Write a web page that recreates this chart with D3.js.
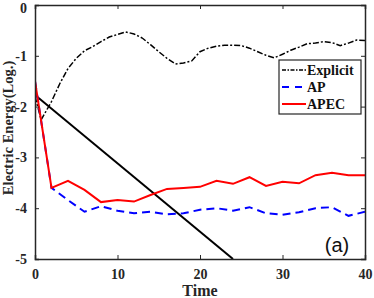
<!DOCTYPE html>
<html>
<head>
<meta charset="utf-8">
<script src="https://cdn.jsdelivr.net/npm/d3@7"></script>
<style>
  body { margin: 0; background: #fff; }
  text { font-family: "Liberation Serif", "Times New Roman", serif; font-weight: bold; }
</style>
</head>
<body>
<div id="chart"></div>
<script>
// data
const explicitT = [0, 0.75, 2, 3, 4, 5, 6, 7, 8, 9, 10, 11, 12, 13, 14, 15, 16, 17, 18, 19, 20, 21, 22, 23, 24, 25, 26, 27, 28, 29, 30, 31, 32, 33, 34, 35, 36, 37, 38, 39, 40];
const explicitE = [-1.8, -2.26, -1.9, -1.55, -1.25, -1.05, -0.9, -0.82, -0.72, -0.63, -0.58, -0.53, -0.57, -0.65, -0.78, -0.92, -1.05, -1.16, -1.14, -1.1, -0.92, -0.85, -0.81, -0.79, -0.79, -0.8, -0.85, -0.92, -0.99, -1.04, -0.97, -0.89, -0.83, -0.76, -0.75, -0.72, -0.74, -0.8, -0.75, -0.69, -0.7];

const timeSteps = [0, 2, 4, 6, 8, 10, 12, 14, 16, 18, 20, 22, 24, 26, 28, 30, 32, 34, 36, 38, 40];
const apE   = [-1.5, -3.6, -3.84, -4.07, -3.96, -4.05, -4.1, -4.07, -4.12, -4.1, -4.03, -4.0, -4.05, -3.98, -4.1, -4.13, -4.08, -4.0, -3.98, -4.15, -4.07];
const apecE = [-1.5, -3.6, -3.46, -3.64, -3.88, -3.84, -3.87, -3.74, -3.62, -3.6, -3.58, -3.46, -3.52, -3.39, -3.56, -3.48, -3.51, -3.35, -3.3, -3.35, -3.35];

// reference decay line (not in legend)
const refT = [0, 24];
const refE = [-1.77, -5];

const xTicks = [0, 10, 20, 30, 40];
const yTicks = [0, -1, -2, -3, -4, -5];
const legendNames = ["Explicit", "AP", "APEC"];

const width = 374, height = 298;
const margin = {top: 5, right: 9, bottom: 39, left: 35};

const svg = d3.select("#chart")
  .append("svg")
    .attr("width", width)
    .attr("height", height);

const x = d3.scaleLinear().domain([0, 40]).range([margin.left, width - margin.right]);
const y = d3.scaleLinear().domain([-5, 0]).range([height - margin.bottom, margin.top]);

svg.append("clipPath").attr("id", "clip")
  .append("rect")
    .attr("x", margin.left).attr("y", margin.top)
    .attr("width", width - margin.left - margin.right)
    .attr("height", height - margin.top - margin.bottom);

const line = d3.line().x(d => x(d[0])).y(d => y(d[1]));
const plot = svg.append("g").attr("clip-path", "url(#clip)");

// reference line
plot.append("path")
  .datum(d3.zip(refT, refE))
  .attr("d", line)
  .attr("fill", "none").attr("stroke", "#000").attr("stroke-width", 2);

// explicit
plot.append("path")
  .datum(d3.zip(explicitT, explicitE))
  .attr("d", line)
  .attr("fill", "none").attr("stroke", "#000").attr("stroke-width", 1.5)
  .attr("stroke-dasharray", "6,2,2,2");

// AP
plot.append("path")
  .datum(d3.zip(timeSteps, apE))
  .attr("d", line)
  .attr("fill", "none").attr("stroke", "#0000ff").attr("stroke-width", 2)
  .attr("stroke-dasharray", "8,5");

// APEC
plot.append("path")
  .datum(d3.zip(timeSteps, apecE))
  .attr("d", line)
  .attr("fill", "none").attr("stroke", "#ff0000").attr("stroke-width", 2);

// axes
const axisColor = "#262626";
const fmt = d => String(d);
const axBottom = svg.append("g")
  .attr("transform", `translate(0,${height - margin.bottom})`)
  .call(d3.axisBottom(x).tickValues(xTicks).tickSize(-4).tickPadding(10).tickFormat(fmt));
const axTop = svg.append("g")
  .attr("transform", `translate(0,${margin.top})`)
  .call(d3.axisTop(x).tickValues(xTicks).tickSize(-4).tickFormat(""));
const axLeft = svg.append("g")
  .attr("transform", `translate(${margin.left},0)`)
  .call(d3.axisLeft(y).tickValues(yTicks).tickSize(-4).tickPadding(8).tickFormat(fmt));
const axRight = svg.append("g")
  .attr("transform", `translate(${width - margin.right},0)`)
  .call(d3.axisRight(y).tickValues(yTicks).tickSize(-4).tickFormat(""));

[axBottom, axTop, axLeft, axRight].forEach(g => {
  g.attr("font-family", null).attr("font-size", null);
  g.select(".domain").attr("stroke", axisColor).attr("stroke-width", 1.5);
  g.selectAll(".tick line").attr("stroke", axisColor).attr("stroke-width", 1);
  g.selectAll("text")
    .attr("fill", axisColor)
    .style("font-size", "14px");
});
axLeft.select(".tick text").attr("dy", "0.5em");

// axis titles
svg.append("text")
  .attr("x", x(20)).attr("y", 296)
  .attr("text-anchor", "middle")
  .attr("fill", axisColor)
  .style("font-size", "16px")
  .text("Time");

svg.append("text")
  .attr("transform", "translate(13,128) rotate(-90)")
  .attr("text-anchor", "middle")
  .attr("fill", axisColor)
  .style("font-size", "14.5px")
  .text("Electric Energy(Log.)");

// panel tag
svg.append("text")
  .attr("x", 337).attr("y", 252)
  .attr("text-anchor", "middle")
  .style("font-family", "'Liberation Sans', Arial, sans-serif")
  .style("font-weight", "normal")
  .style("font-size", "20px")
  .attr("fill", "#111")
  .text("(a)");

// legend
const legend = svg.append("g").attr("transform", "translate(279,60)");
legend.append("rect")
  .attr("width", 82).attr("height", 54)
  .attr("fill", "#fff").attr("stroke", axisColor).attr("stroke-width", 1.2);

const legendStyle = [
  {stroke: "#000", dash: "4,1.5,1.5,1.5", w: 1.5},
  {stroke: "#0000ff", dash: "7,6", w: 2},
  {stroke: "#ff0000", dash: null, w: 2}
];
const rows = legend.selectAll("g.row")
  .data(legendNames)
  .join("g")
    .attr("class", "row")
    .attr("transform", (d, i) => `translate(0,${10 + i * 17})`);
rows.append("line")
  .attr("x1", 3).attr("x2", 27)
  .attr("stroke", (d, i) => legendStyle[i].stroke)
  .attr("stroke-width", (d, i) => legendStyle[i].w)
  .attr("stroke-dasharray", (d, i) => legendStyle[i].dash);
rows.append("text")
  .attr("x", 28).attr("y", 5)
  .attr("fill", "#111")
  .style("font-size", "14px")
  .text(d => d);
</script>
</body>
</html>
